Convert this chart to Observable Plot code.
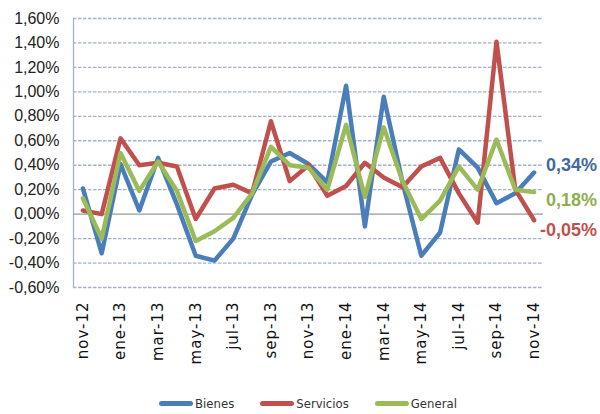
<!DOCTYPE html>
<html>
<head>
<meta charset="utf-8">
<script src="https://cdn.jsdelivr.net/npm/d3@7"></script>
<script src="https://cdn.jsdelivr.net/npm/@observablehq/plot@0.6"></script>
<style>
  body { margin: 0; background: #fff; }
  #chart { width: 600px; }
  .legend { display: flex; justify-content: center; gap: 26px; margin-top: 16px; padding-left: 16px;
    font-family: "DejaVu Sans Condensed", "Liberation Sans", sans-serif; font-size: 13px; color: #333; }
  .legend span.item { display: flex; align-items: center; }
  .legend span.sw { display: inline-block; width: 34px; height: 5px; border-radius: 3px; margin-right: 2px; }
</style>
</head>
<body>
<div id="chart"></div>
<script>
const months = ["nov-12","dic-12","ene-13","feb-13","mar-13","abr-13","may-13","jun-13","jul-13","ago-13","sep-13","oct-13",
  "nov-13","dic-13","ene-14","feb-14","mar-14","abr-14","may-14","jun-14","jul-14","ago-14","sep-14","oct-14","nov-14"];
const seriesNames = ["Bienes", "Servicios", "General"];
const seriesColors = ["#4a7ebb", "#c0504d", "#9bbb59"];
const labelColors = ["#41699f", "#c0504d", "#8fae4d"];
// variación mensual, en %
const bienes = [0.21, -0.32, 0.41, 0.03, 0.46, 0.08, -0.34, -0.38, -0.20, 0.16, 0.43, 0.50, 0.41,
  0.26, 1.05, -0.10, 0.96, 0.26, -0.34, -0.15, 0.53, 0.38, 0.09, 0.17, 0.34];
const servicios = [0.03, 0.00, 0.62, 0.40, 0.42, 0.39, -0.04, 0.21, 0.24, 0.17, 0.76, 0.27, 0.40,
  0.15, 0.23, 0.42, 0.30, 0.22, 0.39, 0.46, 0.17, -0.07, 1.41, 0.20, -0.05];
const general = [0.13, -0.20, 0.50, 0.19, 0.43, 0.19, -0.22, -0.14, -0.03, 0.17, 0.55, 0.40, 0.38,
  0.20, 0.73, 0.14, 0.71, 0.27, -0.04, 0.11, 0.39, 0.20, 0.61, 0.20, 0.18];
const yTicks = [-0.6, -0.4, -0.2, 0, 0.2, 0.4, 0.6, 0.8, 1.0, 1.2, 1.4, 1.6];
const endOffsets = [-7, 10, 8]; // Bienes, Servicios, General

const pct = v => (Math.round(v * 100) / 100).toFixed(2).replace(".", ",") + "%";

const allSeries = [bienes, servicios, general];
const rows = allSeries.flatMap((vals, s) => vals.map((v, i) => ({ serie: seriesNames[s], mes: months[i], v })));

// etiqueta final de cada serie (dy es constante en Plot, así que una marca por serie)
const endLabels = allSeries.map((vals, s) =>
  Plot.text([{ mes: months[months.length - 1], v: vals[vals.length - 1] }], {
    x: "mes", y: "v", text: d => pct(d.v), textAnchor: "end", dx: 63, dy: endOffsets[s],
    fill: labelColors[s], fontWeight: "bold", fontSize: 18
  })
);

const plot = Plot.plot({
  width: 600,
  height: 380,
  marginLeft: 73,
  marginRight: 57,
  marginTop: 18,
  marginBottom: 93,
  style: { fontFamily: "'Liberation Sans', sans-serif", fontSize: "16px", color: "#222", background: "#fff" },
  x: { type: "point", domain: months, padding: 0.5, round: false },
  y: { domain: [-0.6, 1.6] },
  color: { domain: seriesNames, range: seriesColors },
  marks: [
    Plot.ruleY(yTicks.filter(d => d !== 0), { stroke: "#a3b2cc", strokeWidth: 1.3, strokeDasharray: "3.5,1.5" }),
    Plot.frame({ anchor: "left", stroke: "#a3b2cc", strokeWidth: 1.3, strokeDasharray: "3.5,1.5" }),
    Plot.ruleY([0], { stroke: "#9a9a9a", strokeWidth: 1.3 }),
    Plot.axisY({ ticks: yTicks, tickFormat: pct, tickSize: 0, tickPadding: 14, label: null, fill: "#222" }),
    Plot.axisX({ ticks: months.filter((d, i) => i % 2 === 0), tickRotate: -90, tickSize: 0, tickPadding: 14,
      label: null, fontFamily: "DejaVu Sans", fontSize: 15, fill: "#111" }),
    Plot.line(rows, { x: "mes", y: "v", z: "serie", stroke: "serie", strokeWidth: 4.5, strokeLinejoin: "round", strokeLinecap: "round" }),
    ...endLabels
  ]
});

// la separación de letras en el eje x
d3.select(plot).selectAll("g[aria-label='x-axis tick label'] text").attr("letter-spacing", "1px");

document.getElementById("chart").appendChild(plot);

const legend = document.createElement("div");
legend.className = "legend";
seriesNames.forEach((n, i) => {
  const item = document.createElement("span");
  item.className = "item";
  item.innerHTML = `<span class="sw" style="background:${seriesColors[i]}"></span>${n}`;
  legend.appendChild(item);
});
document.getElementById("chart").appendChild(legend);
</script>
</body>
</html>
